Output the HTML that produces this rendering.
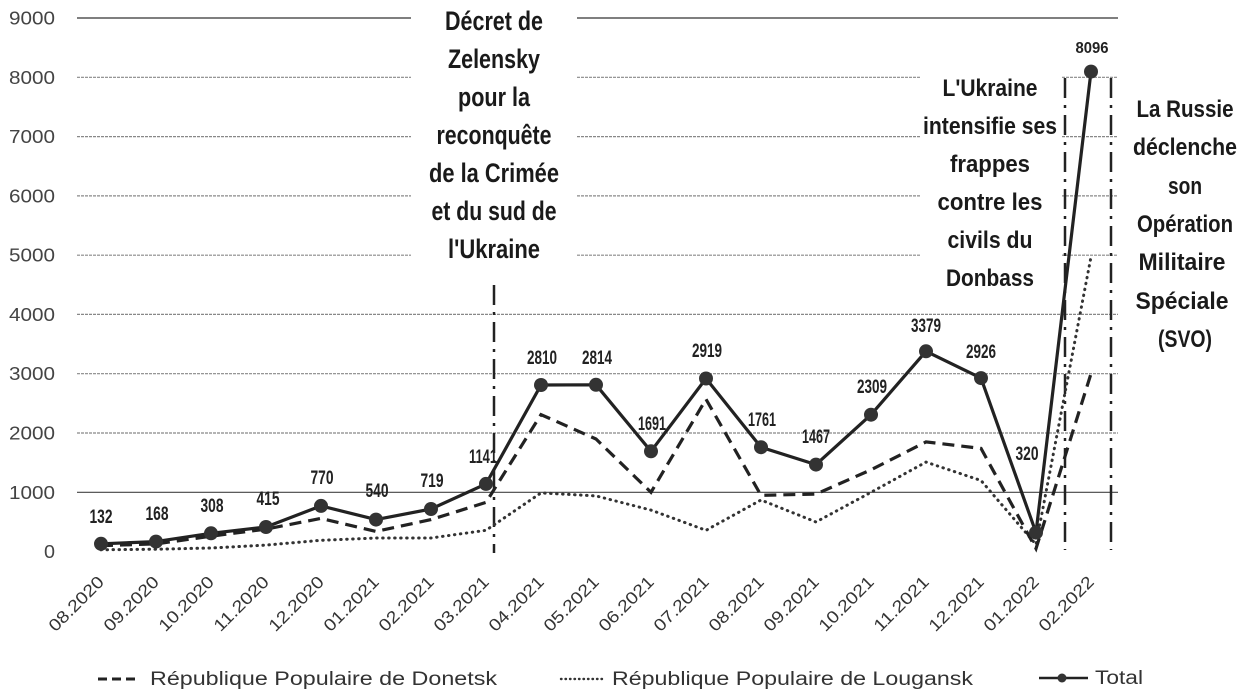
<!DOCTYPE html>
<html>
<head>
<meta charset="utf-8">
<style>
html,body{margin:0;padding:0;background:#fff;}
svg{display:block;}
text{font-family:"Liberation Sans",sans-serif;}
.yl{font-size:18px;fill:#444;text-anchor:end;}
.xl{font-size:17px;fill:#333;text-anchor:end;}
.dl{font-size:19px;font-weight:bold;fill:#222;text-anchor:middle;}
.an{font-size:27px;font-weight:bold;fill:#1a1a1a;text-anchor:middle;}
.an2{font-size:24px;font-weight:bold;fill:#1a1a1a;text-anchor:middle;}
.lg{font-size:19px;fill:#333;}
</style>
</head>
<body>
<svg width="1251" height="700" viewBox="0 0 1251 700" xmlns="http://www.w3.org/2000/svg">
<rect width="1251" height="700" fill="#fff"/>

<!-- gridlines -->
<g stroke-width="1.2" fill="none">
  <path d="M77 18H411M577 18H1118" stroke="#333"/>
  <path d="M77 77.3H411M577 77.3H920M1062 77.3H1118" stroke="#888" stroke-dasharray="3 1"/>
  <path d="M77 136.6H411M577 136.6H920M1062 136.6H1118" stroke="#888" stroke-dasharray="3 1"/>
  <path d="M77 195.9H411M577 195.9H920M1062 195.9H1118" stroke="#888" stroke-dasharray="3 1"/>
  <path d="M77 255.2H411M577 255.2H920M1062 255.2H1118" stroke="#888" stroke-dasharray="3 1"/>
  <path d="M77 314.4H1118" stroke="#888" stroke-dasharray="3 1"/>
  <path d="M77 373.7H1118" stroke="#888" stroke-dasharray="3 1"/>
  <path d="M77 433H1118" stroke="#888" stroke-dasharray="3 1"/>
  <path d="M77 492.3H1118" stroke="#444"/>
</g>

<!-- y labels -->
<g class="yl">
  <text x="55" y="24.5" textLength="46" lengthAdjust="spacingAndGlyphs">9000</text>
  <text x="55" y="83.8" textLength="46" lengthAdjust="spacingAndGlyphs">8000</text>
  <text x="55" y="143.1" textLength="46" lengthAdjust="spacingAndGlyphs">7000</text>
  <text x="55" y="202.4" textLength="46" lengthAdjust="spacingAndGlyphs">6000</text>
  <text x="55" y="261.7" textLength="46" lengthAdjust="spacingAndGlyphs">5000</text>
  <text x="55" y="320.9" textLength="46" lengthAdjust="spacingAndGlyphs">4000</text>
  <text x="55" y="380.2" textLength="46" lengthAdjust="spacingAndGlyphs">3000</text>
  <text x="55" y="439.5" textLength="46" lengthAdjust="spacingAndGlyphs">2000</text>
  <text x="55" y="498.8" textLength="46" lengthAdjust="spacingAndGlyphs">1000</text>
  <text x="55" y="558" textLength="11" lengthAdjust="spacingAndGlyphs">0</text>
</g>

<!-- vertical event lines -->
<g stroke="#222" stroke-width="2.5" fill="none" stroke-dasharray="20 7 3 7">
  <path d="M494 285V553"/>
  <path d="M1065 78V550"/>
  <path d="M1111 78V550"/>
</g>

<!-- Lougansk dotted -->
<polyline fill="none" stroke="#333" stroke-width="3" stroke-linecap="round" stroke-dasharray="0.5 5.5"
 points="101,549.8 156,549.2 211,548 266,545.1 321,540.3 376,538 431,538 486,530.3 541,492.9 596,495.9 651,510.1 706,530.3 761,500 816,522 871,492.3 926,462.1 981,480.5 1036,544.5 1091,256.9"/>

<!-- Donetsk dashed -->
<polyline fill="none" stroke="#222" stroke-width="3.2" stroke-dasharray="12 7"
 points="101,545.7 156,543.9 211,536.2 266,529.1 321,518.4 376,531.4 431,519.6 486,502.4 541,414.6 596,439 651,492.3 706,399.2 761,495.3 816,494.1 871,469.8 926,441.9 981,448.4 1036,548.6 1091,373.7"/>

<!-- Total -->
<polyline fill="none" stroke="#222" stroke-width="3.2" stroke-linejoin="round"
 points="101,543.8 156,541.6 211,533.3 266,527 321,505.9 376,519.6 431,509 486,483.9 541,385 596,384.8 651,451.3 706,378.5 761,447.2 816,464.6 871,414.7 926,351.3 981,378.1 1036,532.6 1091,71.6"/>
<g fill="#333">
  <circle cx="101" cy="543.8" r="7"/>
  <circle cx="156" cy="541.6" r="7"/>
  <circle cx="211" cy="533.3" r="7"/>
  <circle cx="266" cy="527" r="7"/>
  <circle cx="321" cy="505.9" r="7"/>
  <circle cx="376" cy="519.6" r="7"/>
  <circle cx="431" cy="509" r="7"/>
  <circle cx="486" cy="483.9" r="7"/>
  <circle cx="541" cy="385" r="7"/>
  <circle cx="596" cy="384.8" r="7"/>
  <circle cx="651" cy="451.3" r="7"/>
  <circle cx="706" cy="378.5" r="7"/>
  <circle cx="761" cy="447.2" r="7"/>
  <circle cx="816" cy="464.6" r="7"/>
  <circle cx="871" cy="414.7" r="7"/>
  <circle cx="926" cy="351.3" r="7"/>
  <circle cx="981" cy="378.1" r="7"/>
  <circle cx="1036" cy="532.6" r="7"/>
  <circle cx="1091" cy="71.6" r="7"/>
</g>

<!-- data labels -->
<g class="dl">
  <text x="101" y="523" textLength="23" lengthAdjust="spacingAndGlyphs">132</text>
  <text x="157" y="520" textLength="23" lengthAdjust="spacingAndGlyphs">168</text>
  <text x="212" y="512" textLength="23" lengthAdjust="spacingAndGlyphs">308</text>
  <text x="268" y="505" textLength="23" lengthAdjust="spacingAndGlyphs">415</text>
  <text x="322" y="484" textLength="23" lengthAdjust="spacingAndGlyphs">770</text>
  <text x="377" y="497" textLength="23" lengthAdjust="spacingAndGlyphs">540</text>
  <text x="432" y="487" textLength="23" lengthAdjust="spacingAndGlyphs">719</text>
  <text x="483" y="463" textLength="28" lengthAdjust="spacingAndGlyphs">1141</text>
  <text x="542" y="364" textLength="30" lengthAdjust="spacingAndGlyphs">2810</text>
  <text x="597" y="364" textLength="30" lengthAdjust="spacingAndGlyphs">2814</text>
  <text x="652" y="430" textLength="28" lengthAdjust="spacingAndGlyphs">1691</text>
  <text x="707" y="357" textLength="30" lengthAdjust="spacingAndGlyphs">2919</text>
  <text x="762" y="426" textLength="28" lengthAdjust="spacingAndGlyphs">1761</text>
  <text x="816" y="443" textLength="28" lengthAdjust="spacingAndGlyphs">1467</text>
  <text x="872" y="393" textLength="30" lengthAdjust="spacingAndGlyphs">2309</text>
  <text x="926" y="332" textLength="30" lengthAdjust="spacingAndGlyphs">3379</text>
  <text x="981" y="358" textLength="30" lengthAdjust="spacingAndGlyphs">2926</text>
  <text x="1027" y="460" textLength="23" lengthAdjust="spacingAndGlyphs">320</text>
  <text x="1092" y="53" textLength="33" lengthAdjust="spacingAndGlyphs" style="font-size:16px">8096</text>
</g>

<!-- x labels -->
<g class="xl">
  <text transform="translate(105,583) rotate(-45)" textLength="70" lengthAdjust="spacingAndGlyphs">08.2020</text>
  <text transform="translate(160,583) rotate(-45)" textLength="70" lengthAdjust="spacingAndGlyphs">09.2020</text>
  <text transform="translate(215,583) rotate(-45)" textLength="70" lengthAdjust="spacingAndGlyphs">10.2020</text>
  <text transform="translate(270,583) rotate(-45)" textLength="70" lengthAdjust="spacingAndGlyphs">11.2020</text>
  <text transform="translate(325,583) rotate(-45)" textLength="70" lengthAdjust="spacingAndGlyphs">12.2020</text>
  <text transform="translate(380,583) rotate(-45)" textLength="70" lengthAdjust="spacingAndGlyphs">01.2021</text>
  <text transform="translate(435,583) rotate(-45)" textLength="70" lengthAdjust="spacingAndGlyphs">02.2021</text>
  <text transform="translate(490,583) rotate(-45)" textLength="70" lengthAdjust="spacingAndGlyphs">03.2021</text>
  <text transform="translate(545,583) rotate(-45)" textLength="70" lengthAdjust="spacingAndGlyphs">04.2021</text>
  <text transform="translate(600,583) rotate(-45)" textLength="70" lengthAdjust="spacingAndGlyphs">05.2021</text>
  <text transform="translate(655,583) rotate(-45)" textLength="70" lengthAdjust="spacingAndGlyphs">06.2021</text>
  <text transform="translate(710,583) rotate(-45)" textLength="70" lengthAdjust="spacingAndGlyphs">07.2021</text>
  <text transform="translate(765,583) rotate(-45)" textLength="70" lengthAdjust="spacingAndGlyphs">08.2021</text>
  <text transform="translate(820,583) rotate(-45)" textLength="70" lengthAdjust="spacingAndGlyphs">09.2021</text>
  <text transform="translate(875,583) rotate(-45)" textLength="70" lengthAdjust="spacingAndGlyphs">10.2021</text>
  <text transform="translate(930,583) rotate(-45)" textLength="70" lengthAdjust="spacingAndGlyphs">11.2021</text>
  <text transform="translate(985,583) rotate(-45)" textLength="70" lengthAdjust="spacingAndGlyphs">12.2021</text>
  <text transform="translate(1040,583) rotate(-45)" textLength="70" lengthAdjust="spacingAndGlyphs">01.2022</text>
  <text transform="translate(1095,583) rotate(-45)" textLength="70" lengthAdjust="spacingAndGlyphs">02.2022</text>
</g>

<!-- annotation: Décret -->
<g class="an">
  <text x="494" y="30" textLength="98" lengthAdjust="spacingAndGlyphs">Décret de</text>
  <text x="494" y="68" textLength="92" lengthAdjust="spacingAndGlyphs">Zelensky</text>
  <text x="494" y="106" textLength="72" lengthAdjust="spacingAndGlyphs">pour la</text>
  <text x="494" y="144" textLength="115" lengthAdjust="spacingAndGlyphs">reconquête</text>
  <text x="494" y="182" textLength="130" lengthAdjust="spacingAndGlyphs">de la Crimée</text>
  <text x="494" y="220" textLength="125" lengthAdjust="spacingAndGlyphs">et du sud de</text>
  <text x="494" y="258" textLength="92" lengthAdjust="spacingAndGlyphs">l'Ukraine</text>
</g>

<!-- annotation: L'Ukraine -->
<g class="an2">
  <text x="990" y="96" textLength="95" lengthAdjust="spacingAndGlyphs">L'Ukraine</text>
  <text x="990" y="134" textLength="134" lengthAdjust="spacingAndGlyphs">intensifie ses</text>
  <text x="990" y="172" textLength="80" lengthAdjust="spacingAndGlyphs">frappes</text>
  <text x="990" y="210" textLength="105" lengthAdjust="spacingAndGlyphs">contre les</text>
  <text x="990" y="248" textLength="85" lengthAdjust="spacingAndGlyphs">civils du</text>
  <text x="990" y="286" textLength="88" lengthAdjust="spacingAndGlyphs">Donbass</text>
</g>

<!-- annotation: La Russie -->
<g class="an2">
  <text x="1185" y="117" textLength="97" lengthAdjust="spacingAndGlyphs">La Russie</text>
  <text x="1185" y="155" textLength="104" lengthAdjust="spacingAndGlyphs">déclenche</text>
  <text x="1185" y="194" textLength="34" lengthAdjust="spacingAndGlyphs">son</text>
  <text x="1185" y="232" textLength="96" lengthAdjust="spacingAndGlyphs">Opération</text>
  <text x="1182" y="270" textLength="87" lengthAdjust="spacingAndGlyphs">Militaire</text>
  <text x="1182" y="309" textLength="93" lengthAdjust="spacingAndGlyphs">Spéciale</text>
  <text x="1185" y="347" textLength="54" lengthAdjust="spacingAndGlyphs">(SVO)</text>
</g>

<!-- legend -->
<path d="M98 679H140" stroke="#222" stroke-width="3" stroke-dasharray="9 5"/>
<text class="lg" x="150" y="685" textLength="347" lengthAdjust="spacingAndGlyphs">République Populaire de Donetsk</text>
<path d="M561 679H605" stroke="#333" stroke-width="2.4" stroke-linecap="round" stroke-dasharray="0.5 4"/>
<text class="lg" x="612" y="685" textLength="361" lengthAdjust="spacingAndGlyphs">République Populaire de Lougansk</text>
<path d="M1039 678H1088" stroke="#222" stroke-width="2.4"/>
<circle cx="1062" cy="678" r="4.5" fill="#333"/>
<text class="lg" x="1095" y="684" textLength="48" lengthAdjust="spacingAndGlyphs">Total</text>
</svg>
</body>
</html>
